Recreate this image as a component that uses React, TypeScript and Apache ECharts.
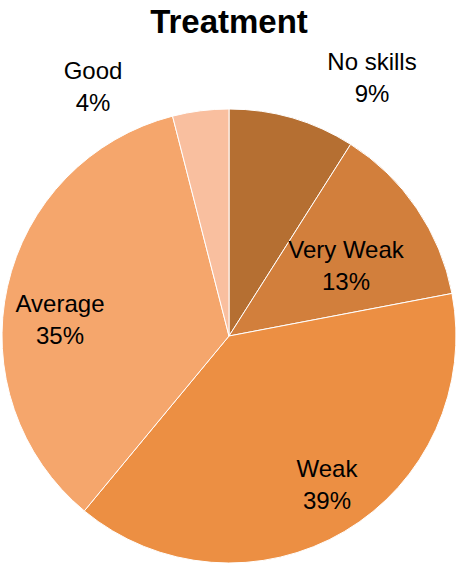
import React, { useEffect, useRef } from "react";
import * as echarts from "echarts";

const categories = ["No skills", "Very Weak", "Weak", "Average", "Good"];
const values = [9, 13, 39, 35, 4];
const colors = ["#B56F32", "#D27F3C", "#EC8F43", "#F5A66C", "#F9BF9F"];

// label block centres (layout only)
const labelCentres: [number, number][] = [
  [372, 77],
  [346, 265],
  [327, 484],
  [60, 319],
  [93, 86],
];

export default function App() {
  const ref = useRef<HTMLDivElement>(null);
  useEffect(() => {
    document.body.style.margin = "0";
    const chart = echarts.init(ref.current!, null, { renderer: "svg" });
    const font = "'Liberation Sans Narrow', 'Liberation Sans', Arial, sans-serif";
    chart.setOption({
      animation: false,
      title: {
        text: "Treatment",
        left: "center",
        top: 0,
        textStyle: { fontFamily: font, fontWeight: "bold", fontSize: 33, color: "#000" },
      },
      series: [
        {
          type: "pie",
          center: [229, 336],
          radius: [0, 227],
          startAngle: 90,
          clockwise: true,
          avoidLabelOverlap: false,
          itemStyle: { borderColor: "#ffffff", borderWidth: 1 },
          label: {
            show: true,
            position: "inside",
            formatter: "{b}\n{c}%",
            fontFamily: font,
            fontSize: 24,
            lineHeight: 32,
            color: "#000",
            align: "center",
          },
          labelLine: { show: false },
          labelLayout: (p: any) => {
            const c = labelCentres[p.dataIndex];
            return { x: c[0], y: c[1], align: "center", verticalAlign: "middle" };
          },
          data: categories.map((n, i) => ({
            name: n,
            value: values[i],
            itemStyle: { color: colors[i] },
          })),
        },
      ],
    });
    return () => chart.dispose();
  }, []);
  return <div ref={ref} style={{ width: 458, height: 564 }} />;
}
